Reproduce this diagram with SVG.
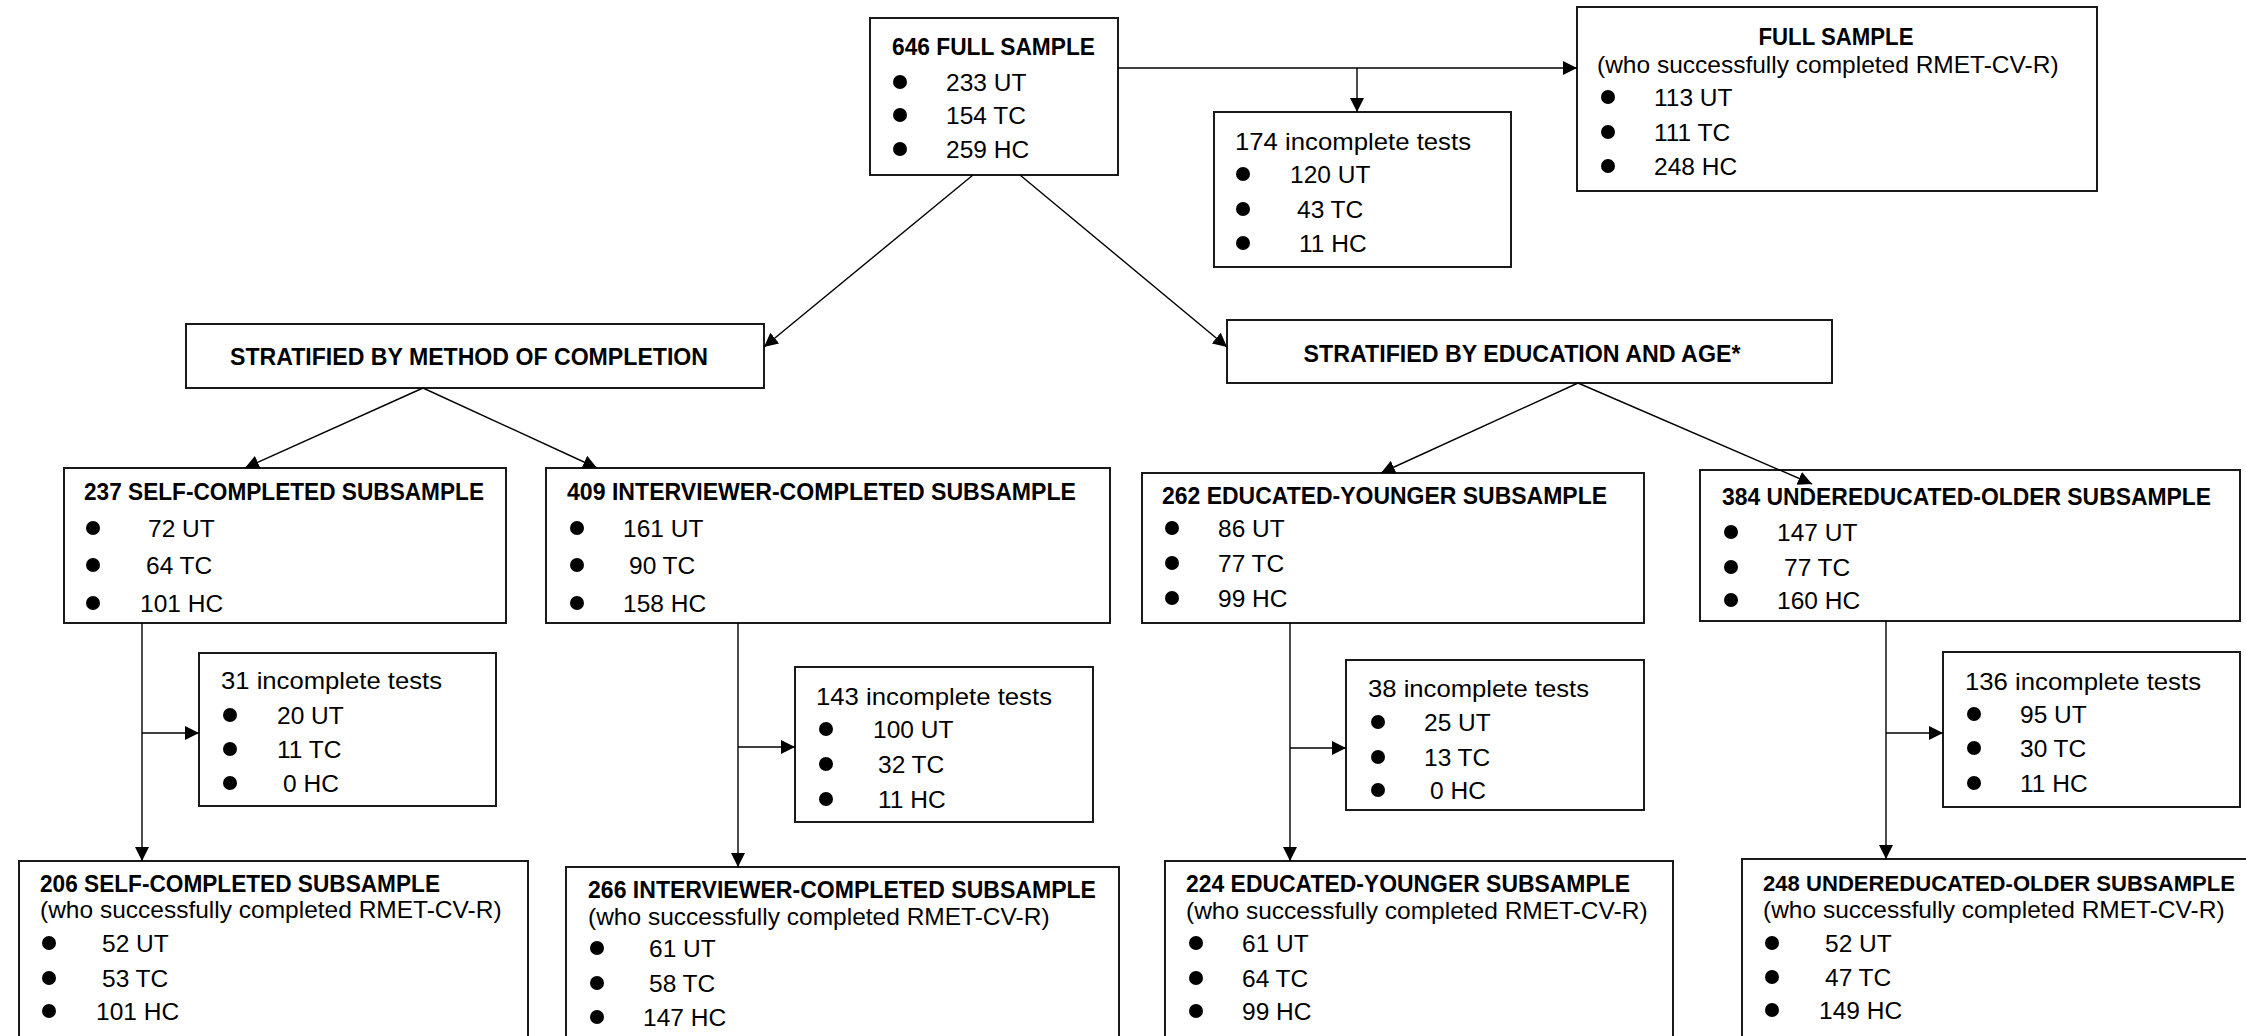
<svg xmlns="http://www.w3.org/2000/svg" width="2246" height="1036" viewBox="0 0 2246 1036">
<defs>
<style>
.box{fill:#fff;stroke:#1a1a1a;stroke-width:2}
.t{font-family:"Liberation Sans",Arial,sans-serif;font-size:24.5px;fill:#000}
.b{font-family:"Liberation Sans",Arial,sans-serif;font-size:23.5px;font-weight:bold;fill:#000}
.dot{fill:#000}
.ln{stroke:#000;stroke-width:1.4;fill:none}
</style>
<marker id="ah" viewBox="0 0 14 14" refX="14" refY="7" markerWidth="14" markerHeight="14" markerUnits="userSpaceOnUse" orient="auto"><path d="M0,0 L14,7 L0,14 z" fill="#000"/></marker>
</defs>
<rect width="2246" height="1036" fill="#fff"/>

<g id="full646">
<rect class="box" x="870" y="18" width="248" height="157"/>
<text class="b" x="892" y="55" textLength="203" lengthAdjust="spacingAndGlyphs">646 FULL SAMPLE</text>
<circle class="dot" cx="900" cy="82" r="7"/><text class="t" x="946" y="91">233 UT</text>
<circle class="dot" cx="900" cy="115" r="7"/><text class="t" x="946" y="124">154 TC</text>
<circle class="dot" cx="900" cy="149" r="7"/><text class="t" x="946" y="158">259 HC</text>
</g>

<g id="fullok">
<rect class="box" x="1577" y="7" width="520" height="184"/>
<text class="b" x="1836" y="45" text-anchor="middle" textLength="155" lengthAdjust="spacingAndGlyphs">FULL SAMPLE</text>
<text class="t" x="1597" y="73">(who successfully completed RMET-CV-R)</text>
<circle class="dot" cx="1608" cy="97" r="7"/><text class="t" x="1654" y="106">113 UT</text>
<circle class="dot" cx="1608" cy="132" r="7"/><text class="t" x="1654" y="141">111 TC</text>
<circle class="dot" cx="1608" cy="166" r="7"/><text class="t" x="1654" y="175">248 HC</text>
</g>

<g id="inc174">
<rect class="box" x="1214" y="112" width="297" height="155"/>
<text class="t" x="1235" y="150" textLength="236" lengthAdjust="spacingAndGlyphs">174 incomplete tests</text>
<circle class="dot" cx="1243" cy="174" r="7"/><text class="t" x="1290" y="183">120 UT</text>
<circle class="dot" cx="1243" cy="209" r="7"/><text class="t" x="1297" y="218">43 TC</text>
<circle class="dot" cx="1243" cy="243" r="7"/><text class="t" x="1299" y="252">11 HC</text>
</g>

<g id="method">
<rect class="box" x="186" y="324" width="578" height="64"/>
<text class="b" x="469" y="365" text-anchor="middle" textLength="478" lengthAdjust="spacingAndGlyphs">STRATIFIED BY METHOD OF COMPLETION</text>
</g>

<g id="education">
<rect class="box" x="1227" y="320" width="605" height="63"/>
<text class="b" x="1522" y="362" text-anchor="middle" textLength="437" lengthAdjust="spacingAndGlyphs">STRATIFIED BY EDUCATION AND AGE*</text>
</g>

<g id="self237">
<rect class="box" x="64" y="468" width="442" height="155"/>
<text class="b" x="84" y="500" textLength="400" lengthAdjust="spacingAndGlyphs">237 SELF-COMPLETED SUBSAMPLE</text>
<circle class="dot" cx="93" cy="528" r="7"/><text class="t" x="148" y="537">72 UT</text>
<circle class="dot" cx="93" cy="565" r="7"/><text class="t" x="146" y="574">64 TC</text>
<circle class="dot" cx="93" cy="603" r="7"/><text class="t" x="140" y="612">101 HC</text>
</g>

<g id="inter409">
<rect class="box" x="546" y="468" width="564" height="155"/>
<text class="b" x="567" y="500" textLength="509" lengthAdjust="spacingAndGlyphs">409 INTERVIEWER-COMPLETED SUBSAMPLE</text>
<circle class="dot" cx="577" cy="528" r="7"/><text class="t" x="623" y="537">161 UT</text>
<circle class="dot" cx="577" cy="565" r="7"/><text class="t" x="629" y="574">90 TC</text>
<circle class="dot" cx="577" cy="603" r="7"/><text class="t" x="623" y="612">158 HC</text>
</g>

<g id="edu262">
<rect class="box" x="1142" y="473" width="502" height="150"/>
<text class="b" x="1162" y="504" textLength="445" lengthAdjust="spacingAndGlyphs">262 EDUCATED-YOUNGER SUBSAMPLE</text>
<circle class="dot" cx="1172" cy="528" r="7"/><text class="t" x="1218" y="537">86 UT</text>
<circle class="dot" cx="1172" cy="563" r="7"/><text class="t" x="1218" y="572">77 TC</text>
<circle class="dot" cx="1172" cy="598" r="7"/><text class="t" x="1218" y="607">99 HC</text>
</g>

<g id="under384">
<rect class="box" x="1700" y="470" width="540" height="151"/>
<text class="b" x="1722" y="505" textLength="489" lengthAdjust="spacingAndGlyphs">384 UNDEREDUCATED-OLDER SUBSAMPLE</text>
<circle class="dot" cx="1731" cy="532" r="7"/><text class="t" x="1777" y="541">147 UT</text>
<circle class="dot" cx="1731" cy="567" r="7"/><text class="t" x="1784" y="576">77 TC</text>
<circle class="dot" cx="1731" cy="600" r="7"/><text class="t" x="1777" y="609">160 HC</text>
</g>

<g id="inc31">
<rect class="box" x="199" y="653" width="297" height="153"/>
<text class="t" x="221" y="689" textLength="221" lengthAdjust="spacingAndGlyphs">31 incomplete tests</text>
<circle class="dot" cx="230" cy="715" r="7"/><text class="t" x="277" y="724">20 UT</text>
<circle class="dot" cx="230" cy="749" r="7"/><text class="t" x="277" y="758">11 TC</text>
<circle class="dot" cx="230" cy="783" r="7"/><text class="t" x="283" y="792">0 HC</text>
</g>

<g id="inc143">
<rect class="box" x="795" y="667" width="298" height="155"/>
<text class="t" x="816" y="705" textLength="236" lengthAdjust="spacingAndGlyphs">143 incomplete tests</text>
<circle class="dot" cx="826" cy="729" r="7"/><text class="t" x="873" y="738">100 UT</text>
<circle class="dot" cx="826" cy="764" r="7"/><text class="t" x="878" y="773">32 TC</text>
<circle class="dot" cx="826" cy="799" r="7"/><text class="t" x="878" y="808">11 HC</text>
</g>

<g id="inc38">
<rect class="box" x="1346" y="660" width="298" height="150"/>
<text class="t" x="1368" y="697" textLength="221" lengthAdjust="spacingAndGlyphs">38 incomplete tests</text>
<circle class="dot" cx="1378" cy="722" r="7"/><text class="t" x="1424" y="731">25 UT</text>
<circle class="dot" cx="1378" cy="757" r="7"/><text class="t" x="1424" y="766">13 TC</text>
<circle class="dot" cx="1378" cy="790" r="7"/><text class="t" x="1430" y="799">0 HC</text>
</g>

<g id="inc136">
<rect class="box" x="1943" y="652" width="297" height="155"/>
<text class="t" x="1965" y="690" textLength="236" lengthAdjust="spacingAndGlyphs">136 incomplete tests</text>
<circle class="dot" cx="1974" cy="714" r="7"/><text class="t" x="2020" y="723">95 UT</text>
<circle class="dot" cx="1974" cy="748" r="7"/><text class="t" x="2020" y="757">30 TC</text>
<circle class="dot" cx="1974" cy="783" r="7"/><text class="t" x="2020" y="792">11 HC</text>
</g>

<g id="self206">
<rect class="box" x="19" y="861" width="509" height="200"/>
<text class="b" x="40" y="892" textLength="400" lengthAdjust="spacingAndGlyphs">206 SELF-COMPLETED SUBSAMPLE</text>
<text class="t" x="40" y="918">(who successfully completed RMET-CV-R)</text>
<circle class="dot" cx="49" cy="943" r="7"/><text class="t" x="102" y="952">52 UT</text>
<circle class="dot" cx="49" cy="978" r="7"/><text class="t" x="102" y="987">53 TC</text>
<circle class="dot" cx="49" cy="1011" r="7"/><text class="t" x="96" y="1020">101 HC</text>
</g>

<g id="inter266">
<rect class="box" x="566" y="867" width="553" height="200"/>
<text class="b" x="588" y="898" textLength="508" lengthAdjust="spacingAndGlyphs">266 INTERVIEWER-COMPLETED SUBSAMPLE</text>
<text class="t" x="588" y="925">(who successfully completed RMET-CV-R)</text>
<circle class="dot" cx="597" cy="948" r="7"/><text class="t" x="649" y="957">61 UT</text>
<circle class="dot" cx="597" cy="983" r="7"/><text class="t" x="649" y="992">58 TC</text>
<circle class="dot" cx="597" cy="1017" r="7"/><text class="t" x="643" y="1026">147 HC</text>
</g>

<g id="edu224">
<rect class="box" x="1165" y="861" width="508" height="200"/>
<text class="b" x="1186" y="892" textLength="444" lengthAdjust="spacingAndGlyphs">224 EDUCATED-YOUNGER SUBSAMPLE</text>
<text class="t" x="1186" y="919">(who successfully completed RMET-CV-R)</text>
<circle class="dot" cx="1196" cy="943" r="7"/><text class="t" x="1242" y="952">61 UT</text>
<circle class="dot" cx="1196" cy="978" r="7"/><text class="t" x="1242" y="987">64 TC</text>
<circle class="dot" cx="1196" cy="1011" r="7"/><text class="t" x="1242" y="1020">99 HC</text>
</g>

<g id="under248">
<rect class="box" x="1742" y="859" width="540" height="200"/>
<text class="b" x="1763" y="891" style="font-size:21.5px" textLength="472" lengthAdjust="spacingAndGlyphs">248 UNDEREDUCATED-OLDER SUBSAMPLE</text>
<text class="t" x="1763" y="918">(who successfully completed RMET-CV-R)</text>
<circle class="dot" cx="1772" cy="943" r="7"/><text class="t" x="1825" y="952">52 UT</text>
<circle class="dot" cx="1772" cy="977" r="7"/><text class="t" x="1825" y="986">47 TC</text>
<circle class="dot" cx="1772" cy="1010" r="7"/><text class="t" x="1819" y="1019">149 HC</text>
</g>

<g id="connectors">
<line class="ln" x1="1118" y1="68" x2="1577" y2="68" marker-end="url(#ah)"/>
<line class="ln" x1="1357" y1="68" x2="1357" y2="112" marker-end="url(#ah)"/>
<line class="ln" x1="973" y1="175" x2="764" y2="347" marker-end="url(#ah)"/>
<line class="ln" x1="1020" y1="175" x2="1227" y2="347" marker-end="url(#ah)"/>
<line class="ln" x1="423" y1="388" x2="245" y2="468" marker-end="url(#ah)"/>
<line class="ln" x1="423" y1="388" x2="597" y2="468" marker-end="url(#ah)"/>
<line class="ln" x1="1578" y1="383" x2="1381" y2="473" marker-end="url(#ah)"/>
<line class="ln" x1="1578" y1="383" x2="1812" y2="484" marker-end="url(#ah)"/>
<line class="ln" x1="142" y1="623" x2="142" y2="861" marker-end="url(#ah)"/>
<line class="ln" x1="142" y1="733" x2="199" y2="733" marker-end="url(#ah)"/>
<line class="ln" x1="738" y1="623" x2="738" y2="867" marker-end="url(#ah)"/>
<line class="ln" x1="738" y1="747" x2="795" y2="747" marker-end="url(#ah)"/>
<line class="ln" x1="1290" y1="623" x2="1290" y2="861" marker-end="url(#ah)"/>
<line class="ln" x1="1290" y1="748" x2="1346" y2="748" marker-end="url(#ah)"/>
<line class="ln" x1="1886" y1="621" x2="1886" y2="859" marker-end="url(#ah)"/>
<line class="ln" x1="1886" y1="733" x2="1943" y2="733" marker-end="url(#ah)"/>
</g>
</svg>
